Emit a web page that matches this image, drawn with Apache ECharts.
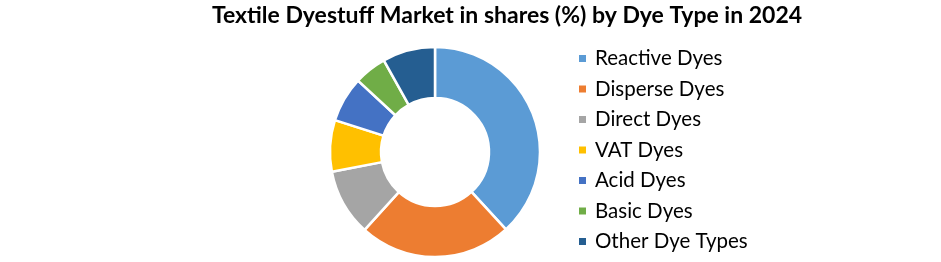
<!DOCTYPE html>
<html>
<head>
<meta charset="utf-8">
<script src="https://cdn.jsdelivr.net/npm/echarts@6/dist/echarts.min.js"></script>
<style>html,body{margin:0;padding:0;background:#fff;}#c{width:941px;height:262px;}</style>
</head>
<body>
<div id="c"></div>
<script>
const titleText = 'Textile Dyestuff Market in shares (%) by Dye Type in 2024';
const categories = ['Reactive Dyes', 'Disperse Dyes', 'Direct Dyes', 'VAT Dyes', 'Acid Dyes', 'Basic Dyes', 'Other Dye Types'];
const shares = [38.2, 23.5, 10.3, 7.9, 7.0, 5.0, 8.1];
const colors = ['#5B9BD5', '#ED7D31', '#A5A5A5', '#FFC000', '#4472C4', '#70AD47', '#255E91'];

const chart = echarts.init(document.getElementById('c'), null, {renderer: 'canvas'});
chart.setOption({
  animation: false,
  backgroundColor: '#ffffff',
  color: colors,
  title: {
    text: titleText,
    left: 507,
    top: 4,
    textAlign: 'center',
    padding: 0,
    textStyle: {fontFamily: 'Lato', fontWeight: 'bold', fontSize: 23, color: '#000'}
  },
  legend: {
    orient: 'vertical',
    left: 577,
    top: 47.5,
    padding: 0,
    itemWidth: 9,
    itemHeight: 9,
    itemGap: 8.5,
    icon: 'rect',
    data: categories,
    textStyle: {fontFamily: 'Lato', fontSize: 20.5, color: '#000', lineHeight: 22, padding: [0, 0, 0, 3]}
  },
  series: [{
    type: 'pie',
    center: [435, 152],
    radius: [54, 105],
    startAngle: 90,
    clockwise: true,
    label: {show: false},
    labelLine: {show: false},
    itemStyle: {borderColor: '#fff', borderWidth: 2.5},
    emphasis: {disabled: true},
    data: categories.map((n, i) => ({name: n, value: shares[i]}))
  }]
});
</script>
</body>
</html>
